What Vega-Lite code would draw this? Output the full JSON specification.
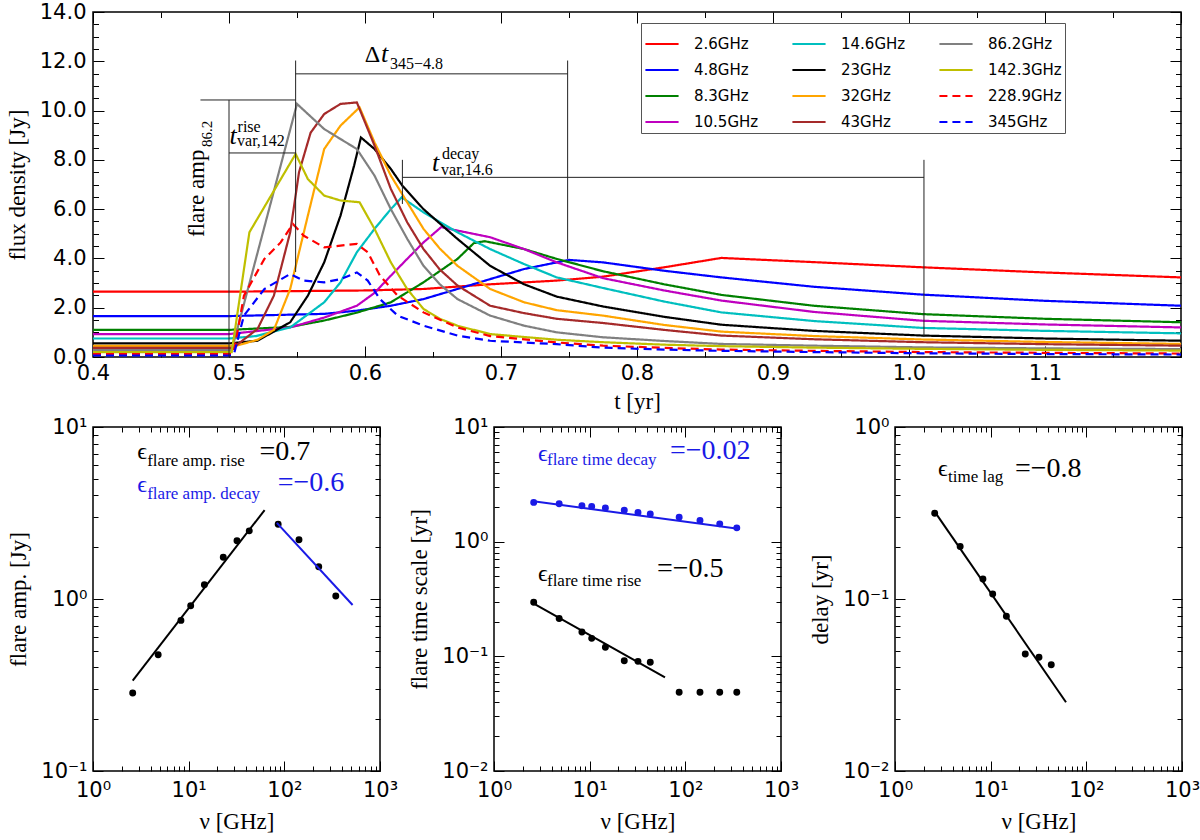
{
  "$schema": "https://vega.github.io/schema/vega-lite/v6.json",
  "background": "white",
  "padding": {"left": 5, "top": 0, "right": 10, "bottom": 4},
  "config": {
    "view": {"stroke": "#000", "strokeWidth": 1.5},
    "axis": {
      "domain": false, "grid": false,
      "labelFont": "DejaVu Sans", "labelFontSize": 21, "labelColor": "#000",
      "titleFont": "Liberation Serif", "titleFontSize": 23, "titleFontWeight": "normal", "titleColor": "#000",
      "tickColor": "#000", "tickWidth": 1,
      "labelOverlap": false, "labelFlush": false, "labelBound": false
    },
    "text": {"font": "Liberation Serif", "color": "#000"}
  },
  "datasets": {
    "curves": [
      {"band": "2.6GHz", "t": 0.4, "flux": 2.65}, {"band": "2.6GHz", "t": 0.5, "flux": 2.65}, {"band": "2.6GHz", "t": 0.6, "flux": 2.7},
      {"band": "2.6GHz", "t": 0.643, "flux": 2.76}, {"band": "2.6GHz", "t": 0.692, "flux": 2.95}, {"band": "2.6GHz", "t": 0.741, "flux": 3.1},
      {"band": "2.6GHz", "t": 0.775, "flux": 3.26}, {"band": "2.6GHz", "t": 0.82, "flux": 3.64}, {"band": "2.6GHz", "t": 0.862, "flux": 4.02},
      {"band": "2.6GHz", "t": 0.93, "flux": 3.85}, {"band": "2.6GHz", "t": 1.01, "flux": 3.64}, {"band": "2.6GHz", "t": 1.1, "flux": 3.43},
      {"band": "2.6GHz", "t": 1.2, "flux": 3.23},

      {"band": "4.8GHz", "t": 0.4, "flux": 1.66}, {"band": "4.8GHz", "t": 0.5, "flux": 1.66}, {"band": "4.8GHz", "t": 0.57, "flux": 1.75},
      {"band": "4.8GHz", "t": 0.594, "flux": 1.88}, {"band": "4.8GHz", "t": 0.619, "flux": 2.08}, {"band": "4.8GHz", "t": 0.643, "flux": 2.35},
      {"band": "4.8GHz", "t": 0.668, "flux": 2.76}, {"band": "4.8GHz", "t": 0.692, "flux": 3.16}, {"band": "4.8GHz", "t": 0.717, "flux": 3.57},
      {"band": "4.8GHz", "t": 0.75, "flux": 3.94}, {"band": "4.8GHz", "t": 0.775, "flux": 3.84}, {"band": "4.8GHz", "t": 0.82, "flux": 3.5},
      {"band": "4.8GHz", "t": 0.862, "flux": 3.23}, {"band": "4.8GHz", "t": 0.93, "flux": 2.85}, {"band": "4.8GHz", "t": 1.01, "flux": 2.53},
      {"band": "4.8GHz", "t": 1.1, "flux": 2.28}, {"band": "4.8GHz", "t": 1.2, "flux": 2.08},

      {"band": "8.3GHz", "t": 0.4, "flux": 1.1}, {"band": "8.3GHz", "t": 0.5, "flux": 1.1}, {"band": "8.3GHz", "t": 0.545, "flux": 1.22},
      {"band": "8.3GHz", "t": 0.57, "flux": 1.48}, {"band": "8.3GHz", "t": 0.594, "flux": 1.8}, {"band": "8.3GHz", "t": 0.619, "flux": 2.22},
      {"band": "8.3GHz", "t": 0.643, "flux": 3.03}, {"band": "8.3GHz", "t": 0.668, "flux": 3.98}, {"band": "8.3GHz", "t": 0.68, "flux": 4.62},
      {"band": "8.3GHz", "t": 0.688, "flux": 4.7}, {"band": "8.3GHz", "t": 0.717, "flux": 4.38}, {"band": "8.3GHz", "t": 0.741, "flux": 3.98},
      {"band": "8.3GHz", "t": 0.775, "flux": 3.48}, {"band": "8.3GHz", "t": 0.82, "flux": 2.95}, {"band": "8.3GHz", "t": 0.862, "flux": 2.52},
      {"band": "8.3GHz", "t": 0.93, "flux": 2.08}, {"band": "8.3GHz", "t": 1.01, "flux": 1.74}, {"band": "8.3GHz", "t": 1.1, "flux": 1.55},
      {"band": "8.3GHz", "t": 1.2, "flux": 1.41},

      {"band": "10.5GHz", "t": 0.4, "flux": 0.93}, {"band": "10.5GHz", "t": 0.5, "flux": 0.93}, {"band": "10.5GHz", "t": 0.545, "flux": 1.2},
      {"band": "10.5GHz", "t": 0.57, "flux": 1.6}, {"band": "10.5GHz", "t": 0.594, "flux": 2.08}, {"band": "10.5GHz", "t": 0.607, "flux": 2.6},
      {"band": "10.5GHz", "t": 0.619, "flux": 3.3}, {"band": "10.5GHz", "t": 0.631, "flux": 3.98}, {"band": "10.5GHz", "t": 0.643, "flux": 4.65},
      {"band": "10.5GHz", "t": 0.656, "flux": 5.27}, {"band": "10.5GHz", "t": 0.668, "flux": 5.13}, {"band": "10.5GHz", "t": 0.692, "flux": 4.86},
      {"band": "10.5GHz", "t": 0.717, "flux": 4.38}, {"band": "10.5GHz", "t": 0.741, "flux": 3.84}, {"band": "10.5GHz", "t": 0.775, "flux": 3.2},
      {"band": "10.5GHz", "t": 0.82, "flux": 2.7}, {"band": "10.5GHz", "t": 0.862, "flux": 2.29}, {"band": "10.5GHz", "t": 0.93, "flux": 1.83},
      {"band": "10.5GHz", "t": 1.01, "flux": 1.47}, {"band": "10.5GHz", "t": 1.1, "flux": 1.32}, {"band": "10.5GHz", "t": 1.2, "flux": 1.2},

      {"band": "14.6GHz", "t": 0.4, "flux": 0.75}, {"band": "14.6GHz", "t": 0.5, "flux": 0.75}, {"band": "14.6GHz", "t": 0.52, "flux": 0.85},
      {"band": "14.6GHz", "t": 0.545, "flux": 1.2}, {"band": "14.6GHz", "t": 0.57, "flux": 2.22}, {"band": "14.6GHz", "t": 0.582, "flux": 3.03},
      {"band": "14.6GHz", "t": 0.594, "flux": 4.25}, {"band": "14.6GHz", "t": 0.607, "flux": 5.2}, {"band": "14.6GHz", "t": 0.619, "flux": 6.0},
      {"band": "14.6GHz", "t": 0.627, "flux": 6.48}, {"band": "14.6GHz", "t": 0.643, "flux": 5.87}, {"band": "14.6GHz", "t": 0.668, "flux": 5.06},
      {"band": "14.6GHz", "t": 0.692, "flux": 4.38}, {"band": "14.6GHz", "t": 0.717, "flux": 3.77}, {"band": "14.6GHz", "t": 0.741, "flux": 3.23},
      {"band": "14.6GHz", "t": 0.775, "flux": 2.8}, {"band": "14.6GHz", "t": 0.82, "flux": 2.25}, {"band": "14.6GHz", "t": 0.862, "flux": 1.81},
      {"band": "14.6GHz", "t": 0.93, "flux": 1.46}, {"band": "14.6GHz", "t": 1.01, "flux": 1.18}, {"band": "14.6GHz", "t": 1.1, "flux": 1.06},
      {"band": "14.6GHz", "t": 1.2, "flux": 0.96},

      {"band": "23GHz", "t": 0.4, "flux": 0.55}, {"band": "23GHz", "t": 0.5, "flux": 0.55}, {"band": "23GHz", "t": 0.521, "flux": 0.66},
      {"band": "23GHz", "t": 0.545, "flux": 1.41}, {"band": "23GHz", "t": 0.558, "flux": 2.49}, {"band": "23GHz", "t": 0.57, "flux": 3.84},
      {"band": "23GHz", "t": 0.582, "flux": 5.74}, {"band": "23GHz", "t": 0.592, "flux": 7.77}, {"band": "23GHz", "t": 0.597, "flux": 8.91},
      {"band": "23GHz", "t": 0.607, "flux": 8.44}, {"band": "23GHz", "t": 0.619, "flux": 7.63}, {"band": "23GHz", "t": 0.6275, "flux": 6.95},
      {"band": "23GHz", "t": 0.643, "flux": 6.0}, {"band": "23GHz", "t": 0.668, "flux": 4.79}, {"band": "23GHz", "t": 0.692, "flux": 3.7},
      {"band": "23GHz", "t": 0.717, "flux": 2.95}, {"band": "23GHz", "t": 0.741, "flux": 2.45}, {"band": "23GHz", "t": 0.775, "flux": 2.05},
      {"band": "23GHz", "t": 0.82, "flux": 1.63}, {"band": "23GHz", "t": 0.862, "flux": 1.31}, {"band": "23GHz", "t": 0.93, "flux": 1.06},
      {"band": "23GHz", "t": 1.01, "flux": 0.87}, {"band": "23GHz", "t": 1.1, "flux": 0.75}, {"band": "23GHz", "t": 1.2, "flux": 0.66},

      {"band": "32GHz", "t": 0.4, "flux": 0.45}, {"band": "32GHz", "t": 0.505, "flux": 0.45}, {"band": "32GHz", "t": 0.521, "flux": 0.7},
      {"band": "32GHz", "t": 0.533, "flux": 1.1}, {"band": "32GHz", "t": 0.545, "flux": 2.76}, {"band": "32GHz", "t": 0.558, "flux": 5.74},
      {"band": "32GHz", "t": 0.57, "flux": 8.44}, {"band": "32GHz", "t": 0.582, "flux": 9.39}, {"band": "32GHz", "t": 0.596, "flux": 10.13},
      {"band": "32GHz", "t": 0.607, "flux": 8.71}, {"band": "32GHz", "t": 0.619, "flux": 7.36}, {"band": "32GHz", "t": 0.631, "flux": 6.28},
      {"band": "32GHz", "t": 0.643, "flux": 5.2}, {"band": "32GHz", "t": 0.655, "flux": 4.4}, {"band": "32GHz", "t": 0.668, "flux": 3.7},
      {"band": "32GHz", "t": 0.692, "flux": 2.76}, {"band": "32GHz", "t": 0.717, "flux": 2.22}, {"band": "32GHz", "t": 0.741, "flux": 1.9},
      {"band": "32GHz", "t": 0.775, "flux": 1.68}, {"band": "32GHz", "t": 0.82, "flux": 1.3}, {"band": "32GHz", "t": 0.862, "flux": 1.03},
      {"band": "32GHz", "t": 0.93, "flux": 0.85}, {"band": "32GHz", "t": 1.01, "flux": 0.71}, {"band": "32GHz", "t": 1.1, "flux": 0.61},
      {"band": "32GHz", "t": 1.2, "flux": 0.53},

      {"band": "43GHz", "t": 0.4, "flux": 0.37}, {"band": "43GHz", "t": 0.503, "flux": 0.37}, {"band": "43GHz", "t": 0.521, "flux": 1.14},
      {"band": "43GHz", "t": 0.533, "flux": 2.49}, {"band": "43GHz", "t": 0.545, "flux": 5.06}, {"band": "43GHz", "t": 0.5515, "flux": 7.5},
      {"band": "43GHz", "t": 0.56, "flux": 9.1}, {"band": "43GHz", "t": 0.57, "flux": 9.86}, {"band": "43GHz", "t": 0.582, "flux": 10.27},
      {"band": "43GHz", "t": 0.594, "flux": 10.33}, {"band": "43GHz", "t": 0.607, "flux": 8.58}, {"band": "43GHz", "t": 0.619, "flux": 6.82},
      {"band": "43GHz", "t": 0.631, "flux": 5.47}, {"band": "43GHz", "t": 0.643, "flux": 4.38}, {"band": "43GHz", "t": 0.655, "flux": 3.55},
      {"band": "43GHz", "t": 0.668, "flux": 2.9}, {"band": "43GHz", "t": 0.692, "flux": 2.08}, {"band": "43GHz", "t": 0.717, "flux": 1.78},
      {"band": "43GHz", "t": 0.741, "flux": 1.55}, {"band": "43GHz", "t": 0.775, "flux": 1.38}, {"band": "43GHz", "t": 0.82, "flux": 1.1},
      {"band": "43GHz", "t": 0.862, "flux": 0.87}, {"band": "43GHz", "t": 0.93, "flux": 0.72}, {"band": "43GHz", "t": 1.01, "flux": 0.6},
      {"band": "43GHz", "t": 1.1, "flux": 0.52}, {"band": "43GHz", "t": 1.2, "flux": 0.46},

      {"band": "86.2GHz", "t": 0.4, "flux": 0.28}, {"band": "86.2GHz", "t": 0.502, "flux": 0.28}, {"band": "86.2GHz", "t": 0.55, "flux": 10.27},
      {"band": "86.2GHz", "t": 0.57, "flux": 9.25}, {"band": "86.2GHz", "t": 0.594, "flux": 8.44}, {"band": "86.2GHz", "t": 0.607, "flux": 7.36},
      {"band": "86.2GHz", "t": 0.619, "flux": 6.0}, {"band": "86.2GHz", "t": 0.631, "flux": 4.8}, {"band": "86.2GHz", "t": 0.643, "flux": 3.7},
      {"band": "86.2GHz", "t": 0.655, "flux": 2.95}, {"band": "86.2GHz", "t": 0.668, "flux": 2.35}, {"band": "86.2GHz", "t": 0.692, "flux": 1.68},
      {"band": "86.2GHz", "t": 0.717, "flux": 1.27}, {"band": "86.2GHz", "t": 0.741, "flux": 1.0}, {"band": "86.2GHz", "t": 0.775, "flux": 0.8},
      {"band": "86.2GHz", "t": 0.82, "flux": 0.65}, {"band": "86.2GHz", "t": 0.862, "flux": 0.53}, {"band": "86.2GHz", "t": 0.93, "flux": 0.46},
      {"band": "86.2GHz", "t": 1.01, "flux": 0.39}, {"band": "86.2GHz", "t": 1.1, "flux": 0.35}, {"band": "86.2GHz", "t": 1.2, "flux": 0.32},

      {"band": "142.3GHz", "t": 0.4, "flux": 0.2}, {"band": "142.3GHz", "t": 0.502, "flux": 0.2}, {"band": "142.3GHz", "t": 0.515, "flux": 5.06},
      {"band": "142.3GHz", "t": 0.549, "flux": 8.24}, {"band": "142.3GHz", "t": 0.558, "flux": 7.22}, {"band": "142.3GHz", "t": 0.57, "flux": 6.55},
      {"band": "142.3GHz", "t": 0.582, "flux": 6.35}, {"band": "142.3GHz", "t": 0.596, "flux": 6.28}, {"band": "142.3GHz", "t": 0.607, "flux": 5.2},
      {"band": "142.3GHz", "t": 0.619, "flux": 3.84}, {"band": "142.3GHz", "t": 0.631, "flux": 2.76}, {"band": "142.3GHz", "t": 0.643, "flux": 1.95},
      {"band": "142.3GHz", "t": 0.655, "flux": 1.55}, {"band": "142.3GHz", "t": 0.668, "flux": 1.27}, {"band": "142.3GHz", "t": 0.692, "flux": 0.93},
      {"band": "142.3GHz", "t": 0.741, "flux": 0.7}, {"band": "142.3GHz", "t": 0.775, "flux": 0.6}, {"band": "142.3GHz", "t": 0.82, "flux": 0.5},
      {"band": "142.3GHz", "t": 0.862, "flux": 0.44}, {"band": "142.3GHz", "t": 0.93, "flux": 0.38}, {"band": "142.3GHz", "t": 1.01, "flux": 0.33},
      {"band": "142.3GHz", "t": 1.1, "flux": 0.29}, {"band": "142.3GHz", "t": 1.2, "flux": 0.26},

      {"band": "228.9GHz", "t": 0.4, "flux": 0.12}, {"band": "228.9GHz", "t": 0.502, "flux": 0.12}, {"band": "228.9GHz", "t": 0.504, "flux": 0.32},
      {"band": "228.9GHz", "t": 0.511, "flux": 2.49}, {"band": "228.9GHz", "t": 0.526, "flux": 3.98}, {"band": "228.9GHz", "t": 0.538, "flux": 4.65},
      {"band": "228.9GHz", "t": 0.547, "flux": 5.4}, {"band": "228.9GHz", "t": 0.555, "flux": 4.92}, {"band": "228.9GHz", "t": 0.57, "flux": 4.45},
      {"band": "228.9GHz", "t": 0.582, "flux": 4.52}, {"band": "228.9GHz", "t": 0.594, "flux": 4.59}, {"band": "228.9GHz", "t": 0.602, "flux": 4.25},
      {"band": "228.9GHz", "t": 0.611, "flux": 3.3}, {"band": "228.9GHz", "t": 0.624, "flux": 2.49}, {"band": "228.9GHz", "t": 0.643, "flux": 1.81},
      {"band": "228.9GHz", "t": 0.668, "flux": 1.2}, {"band": "228.9GHz", "t": 0.692, "flux": 0.85}, {"band": "228.9GHz", "t": 0.741, "flux": 0.59},
      {"band": "228.9GHz", "t": 0.775, "flux": 0.46}, {"band": "228.9GHz", "t": 0.82, "flux": 0.37}, {"band": "228.9GHz", "t": 0.862, "flux": 0.3},
      {"band": "228.9GHz", "t": 0.93, "flux": 0.25}, {"band": "228.9GHz", "t": 1.01, "flux": 0.2}, {"band": "228.9GHz", "t": 1.1, "flux": 0.17},
      {"band": "228.9GHz", "t": 1.2, "flux": 0.14},

      {"band": "345GHz", "t": 0.4, "flux": 0.06}, {"band": "345GHz", "t": 0.502, "flux": 0.06}, {"band": "345GHz", "t": 0.504, "flux": 0.19},
      {"band": "345GHz", "t": 0.511, "flux": 1.68}, {"band": "345GHz", "t": 0.526, "flux": 2.76}, {"band": "345GHz", "t": 0.545, "flux": 3.37},
      {"band": "345GHz", "t": 0.555, "flux": 3.1}, {"band": "345GHz", "t": 0.57, "flux": 3.03}, {"band": "345GHz", "t": 0.582, "flux": 3.16},
      {"band": "345GHz", "t": 0.594, "flux": 3.43}, {"band": "345GHz", "t": 0.602, "flux": 3.1}, {"band": "345GHz", "t": 0.611, "flux": 2.35},
      {"band": "345GHz", "t": 0.624, "flux": 1.68}, {"band": "345GHz", "t": 0.643, "flux": 1.27}, {"band": "345GHz", "t": 0.668, "flux": 0.87},
      {"band": "345GHz", "t": 0.692, "flux": 0.66}, {"band": "345GHz", "t": 0.741, "flux": 0.52}, {"band": "345GHz", "t": 0.775, "flux": 0.38},
      {"band": "345GHz", "t": 0.82, "flux": 0.3}, {"band": "345GHz", "t": 0.862, "flux": 0.25}, {"band": "345GHz", "t": 0.93, "flux": 0.2},
      {"band": "345GHz", "t": 1.01, "flux": 0.15}, {"band": "345GHz", "t": 1.1, "flux": 0.12}, {"band": "345GHz", "t": 1.2, "flux": 0.1}
    ],
    "guides": [
      {"t": 0.479, "t2": 0.549, "f": 10.43, "f2": 10.43},
      {"t": 0.5, "t2": 0.5, "f": 0, "f2": 10.43},
      {"t": 0.549, "t2": 0.549, "f": 3.45, "f2": 12.03},
      {"t": 0.5, "t2": 0.549, "f": 8.28, "f2": 8.28},
      {"t": 0.549, "t2": 0.749, "f": 11.49, "f2": 11.49},
      {"t": 0.749, "t2": 0.749, "f": 3.98, "f2": 12.03},
      {"t": 0.6275, "t2": 0.6275, "f": 6.21, "f2": 8.0},
      {"t": 0.6275, "t2": 1.011, "f": 7.29, "f2": 7.29},
      {"t": 1.011, "t2": 1.011, "f": 0.81, "f2": 8.0}
    ],
    "notes": [
      {"t": 0.5998, "f": 11.96, "txt": "Δ", "kind": "big"},
      {"t": 0.6118, "f": 11.96, "txt": "t", "kind": "it"},
      {"t": 0.6184, "f": 11.69, "txt": "345−4.8", "kind": "sub"},
      {"t": 0.4816, "f": 4.87, "txt": "flare amp", "kind": "rot"},
      {"t": 0.4875, "f": 8.52, "txt": "86.2", "kind": "rotsub"},
      {"t": 0.5004, "f": 8.64, "txt": "t", "kind": "it"},
      {"t": 0.5063, "f": 9.12, "txt": "rise", "kind": "sub"},
      {"t": 0.5059, "f": 8.55, "txt": "var,142", "kind": "sub"},
      {"t": 0.6493, "f": 7.56, "txt": "t", "kind": "it"},
      {"t": 0.6566, "f": 8.04, "txt": "decay", "kind": "sub"},
      {"t": 0.6559, "f": 7.39, "txt": "var,14.6", "kind": "sub"}
    ],
    "amp": [
      {"nu": 2.6, "v": 0.284}, {"nu": 4.8, "v": 0.474}, {"nu": 8.3, "v": 0.751}, {"nu": 10.5, "v": 0.914},
      {"nu": 14.6, "v": 1.21}, {"nu": 23, "v": 1.75}, {"nu": 32, "v": 2.18}, {"nu": 43, "v": 2.49},
      {"nu": 86.2, "v": 2.72}, {"nu": 142.3, "v": 2.21}, {"nu": 228.9, "v": 1.54}, {"nu": 345, "v": 1.04}
    ],
    "timescale": [
      {"nu": 2.6, "v": 2.2, "part": "decay"}, {"nu": 4.8, "v": 2.14, "part": "decay"}, {"nu": 8.3, "v": 2.06, "part": "decay"},
      {"nu": 10.5, "v": 2.03, "part": "decay"}, {"nu": 14.6, "v": 1.97, "part": "decay"}, {"nu": 23, "v": 1.88, "part": "decay"},
      {"nu": 32, "v": 1.8, "part": "decay"}, {"nu": 43, "v": 1.74, "part": "decay"}, {"nu": 86.2, "v": 1.63, "part": "decay"},
      {"nu": 142.3, "v": 1.53, "part": "decay"}, {"nu": 228.9, "v": 1.43, "part": "decay"}, {"nu": 345, "v": 1.32, "part": "decay"},
      {"nu": 2.6, "v": 0.296, "part": "rise"}, {"nu": 4.8, "v": 0.214, "part": "rise"}, {"nu": 8.3, "v": 0.163, "part": "rise"},
      {"nu": 10.5, "v": 0.1435, "part": "rise"}, {"nu": 14.6, "v": 0.12, "part": "rise"}, {"nu": 23, "v": 0.0916, "part": "rise"},
      {"nu": 32, "v": 0.0904, "part": "rise"}, {"nu": 43, "v": 0.0887, "part": "rise"}, {"nu": 86.2, "v": 0.0486, "part": "rise"},
      {"nu": 142.3, "v": 0.0486, "part": "rise"}, {"nu": 228.9, "v": 0.0486, "part": "rise"}, {"nu": 345, "v": 0.0486, "part": "rise"}
    ],
    "delay": [
      {"nu": 2.6, "v": 0.315}, {"nu": 4.8, "v": 0.202}, {"nu": 8.3, "v": 0.1306}, {"nu": 10.5, "v": 0.107},
      {"nu": 14.6, "v": 0.0793}, {"nu": 23, "v": 0.0479}, {"nu": 32, "v": 0.0458}, {"nu": 43, "v": 0.0415}
    ],
    "fits": [
      {"panel": "amp", "part": "rise", "nu": 2.6, "v": 0.335}, {"panel": "amp", "part": "rise", "nu": 62.2, "v": 3.29},
      {"panel": "amp", "part": "decay", "nu": 83.5, "v": 2.77}, {"panel": "amp", "part": "decay", "nu": 517, "v": 0.923},
      {"panel": "time", "part": "decay", "nu": 2.58, "v": 2.25}, {"panel": "time", "part": "decay", "nu": 372, "v": 1.29},
      {"panel": "time", "part": "rise", "nu": 2.58, "v": 0.29}, {"panel": "time", "part": "rise", "nu": 61.3, "v": 0.0656},
      {"panel": "delay", "part": "lag", "nu": 2.62, "v": 0.32}, {"panel": "delay", "part": "lag", "nu": 61.3, "v": 0.0251}
    ],
    "eq": [
      {"panel": "amp", "part": "rise", "nu": 2.894, "v": 6.52, "txt": "ϵ", "kind": "eps"},
      {"panel": "amp", "part": "rise", "nu": 3.686, "v": 5.93, "txt": "flare amp. rise", "kind": "sub"},
      {"panel": "amp", "part": "rise", "nu": 55.1, "v": 6.43, "txt": "=0.7", "kind": "val"},
      {"panel": "amp", "part": "decay", "nu": 2.894, "v": 4.19, "txt": "ϵ", "kind": "eps"},
      {"panel": "amp", "part": "decay", "nu": 3.686, "v": 3.81, "txt": "flare amp. decay", "kind": "sub"},
      {"panel": "amp", "part": "decay", "nu": 85.2, "v": 4.25, "txt": "=−0.6", "kind": "val"},
      {"panel": "time", "part": "decay", "nu": 2.884, "v": 5.08, "txt": "ϵ", "kind": "eps"},
      {"panel": "time", "part": "decay", "nu": 3.58, "v": 4.66, "txt": "flare time decay", "kind": "sub"},
      {"panel": "time", "part": "decay", "nu": 69.1, "v": 5.26, "txt": "=−0.02", "kind": "val"},
      {"panel": "time", "part": "rise", "nu": 2.884, "v": 0.4566, "txt": "ϵ", "kind": "eps"},
      {"panel": "time", "part": "rise", "nu": 3.58, "v": 0.413, "txt": "flare time rise", "kind": "sub"},
      {"panel": "time", "part": "rise", "nu": 50.6, "v": 0.492, "txt": "=−0.5", "kind": "val"},
      {"panel": "delay", "part": "lag", "nu": 2.815, "v": 0.517, "txt": "ϵ", "kind": "eps"},
      {"panel": "delay", "part": "lag", "nu": 3.58, "v": 0.477, "txt": "time lag", "kind": "sub"},
      {"panel": "delay", "part": "lag", "nu": 17.96, "v": 0.512, "txt": "=−0.8", "kind": "val"}
    ]
  },
  "spacing": 70,
  "bounds": "flush",
  "resolve": {"scale": {"color": "independent", "strokeDash": "independent"}},
  "vconcat": [
    {
      "width": 1088,
      "height": 345,
      "resolve": {"axis": {"x": "independent", "y": "independent"}},
      "layer": [
        {
          "data": {"name": "curves"},
          "mark": {"type": "line", "strokeWidth": 2.2, "clip": true},
          "encoding": {
            "x": {
              "field": "t", "type": "quantitative",
              "scale": {"domain": [0.4, 1.2], "nice": false, "zero": false},
              "axis": {
                "orient": "bottom", "title": "t [yr]",
                "values": [0.4, 0.45, 0.5, 0.55, 0.6, 0.65, 0.7, 0.75, 0.8, 0.85, 0.9, 0.95, 1.0, 1.05, 1.1, 1.15, 1.2],
                "labelExpr": "round(datum.value*20) % 2 == 0 && datum.value < 1.15 ? format(datum.value, '.1f') : ''",
                "tickSize": {"condition": {"test": "round(datum.value*20) % 2 == 0", "value": -11}, "value": -5.5},
                "labelPadding": 16, "titlePadding": 2
              }
            },
            "y": {
              "field": "flux", "type": "quantitative",
              "scale": {"domain": [0, 14], "nice": false},
              "axis": {
                "orient": "left", "title": "flux density [Jy]",
                "values": [0, 0.5, 1, 1.5, 2, 2.5, 3, 3.5, 4, 4.5, 5, 5.5, 6, 6.5, 7, 7.5, 8, 8.5, 9, 9.5, 10, 10.5, 11, 11.5, 12, 12.5, 13, 13.5, 14],
                "labelExpr": "datum.value % 2 == 0 ? format(datum.value, '.1f') : ''",
                "tickSize": {"condition": {"test": "datum.value % 2 == 0", "value": -11}, "value": -5.5},
                "labelPadding": 18, "titlePadding": 10
              }
            },
            "color": {
              "field": "band", "type": "nominal",
              "scale": {
                "domain": ["2.6GHz", "4.8GHz", "8.3GHz", "10.5GHz", "14.6GHz", "23GHz", "32GHz", "43GHz", "86.2GHz", "142.3GHz", "228.9GHz", "345GHz"],
                "range": ["#ff0000", "#0000ff", "#008000", "#bf00bf", "#00bfbf", "#000000", "#ffa500", "#a52a2a", "#808080", "#bfbf00", "#ff0000", "#0000ff"]
              },
              "legend": {
                "orient": "none", "legendX": 548, "legendY": 11, "title": null, "columns": 3,
                "symbolType": "stroke", "symbolStrokeWidth": 2.2, "symbolSize": 1100,
                "labelFont": "DejaVu Sans", "labelFontSize": 15, "labelColor": "#000", "labelOffset": 14,
                "columnPadding": 20, "rowPadding": 0, "padding": 3,
                "strokeColor": "#555", "fillColor": "#fff", "gridAlign": "all", "labelLimit": 200
              }
            },
            "strokeDash": {
              "field": "band", "type": "nominal",
              "scale": {
                "domain": ["2.6GHz", "4.8GHz", "8.3GHz", "10.5GHz", "14.6GHz", "23GHz", "32GHz", "43GHz", "86.2GHz", "142.3GHz", "228.9GHz", "345GHz"],
                "range": [[1, 0], [1, 0], [1, 0], [1, 0], [1, 0], [1, 0], [1, 0], [1, 0], [1, 0], [1, 0], [8, 5], [8, 5]]
              },
              "legend": {
                "orient": "none", "legendX": 548, "legendY": 11, "title": null, "columns": 3,
                "symbolType": "stroke", "symbolStrokeWidth": 2.2, "symbolSize": 1100,
                "labelFont": "DejaVu Sans", "labelFontSize": 15, "labelColor": "#000", "labelOffset": 14,
                "columnPadding": 20, "rowPadding": 0, "padding": 3,
                "strokeColor": "#555", "fillColor": "#fff", "gridAlign": "all", "labelLimit": 200
              }
            }
          }
        },
        {
          "data": {"name": "guides"},
          "mark": {"type": "rule", "color": "#222", "strokeWidth": 1},
          "encoding": {
            "x": {
              "field": "t", "type": "quantitative",
              "axis": {
                "orient": "top", "title": null, "labels": false,
                "values": [0.4, 0.45, 0.5, 0.55, 0.6, 0.65, 0.7, 0.75, 0.8, 0.85, 0.9, 0.95, 1.0, 1.05, 1.1, 1.15, 1.2],
                "tickSize": {"condition": {"test": "round(datum.value*20) % 2 == 0", "value": -11}, "value": -5.5}
              }
            },
            "x2": {"field": "t2"},
            "y": {
              "field": "f", "type": "quantitative",
              "axis": {
                "orient": "right", "title": null, "labels": false,
                "values": [0, 0.5, 1, 1.5, 2, 2.5, 3, 3.5, 4, 4.5, 5, 5.5, 6, 6.5, 7, 7.5, 8, 8.5, 9, 9.5, 10, 10.5, 11, 11.5, 12, 12.5, 13, 13.5, 14],
                "tickSize": {"condition": {"test": "datum.value % 2 == 0", "value": -11}, "value": -5.5}
              }
            },
            "y2": {"field": "f2"}
          }
        },
        {
          "data": {"name": "notes"},
          "transform": [{"filter": "datum.kind == 'big'"}],
          "mark": {"type": "text", "align": "left", "baseline": "alphabetic", "fontSize": 24},
          "encoding": {
            "x": {"field": "t", "type": "quantitative", "axis": null},
            "y": {"field": "f", "type": "quantitative", "axis": null},
            "text": {"field": "txt"}
          }
        },
        {
          "data": {"name": "notes"},
          "transform": [{"filter": "datum.kind == 'sub'"}],
          "mark": {"type": "text", "align": "left", "baseline": "alphabetic", "fontSize": 16},
          "encoding": {
            "x": {"field": "t", "type": "quantitative", "axis": null},
            "y": {"field": "f", "type": "quantitative", "axis": null},
            "text": {"field": "txt"}
          }
        },
        {
          "data": {"name": "notes"},
          "transform": [{"filter": "datum.kind == 'it'"}],
          "mark": {"type": "text", "align": "left", "baseline": "alphabetic", "fontStyle": "italic", "fontSize": 26},
          "encoding": {
            "x": {"field": "t", "type": "quantitative", "axis": null},
            "y": {"field": "f", "type": "quantitative", "axis": null},
            "text": {"field": "txt"}
          }
        },
        {
          "data": {"name": "notes"},
          "transform": [{"filter": "datum.kind == 'rot'"}],
          "mark": {"type": "text", "align": "left", "baseline": "alphabetic", "angle": 270, "fontSize": 23},
          "encoding": {
            "x": {"field": "t", "type": "quantitative", "axis": null},
            "y": {"field": "f", "type": "quantitative", "axis": null},
            "text": {"field": "txt"}
          }
        },
        {
          "data": {"name": "notes"},
          "transform": [{"filter": "datum.kind == 'rotsub'"}],
          "mark": {"type": "text", "align": "left", "baseline": "alphabetic", "angle": 270, "fontSize": 15},
          "encoding": {
            "x": {"field": "t", "type": "quantitative", "axis": null},
            "y": {"field": "f", "type": "quantitative", "axis": null},
            "text": {"field": "txt"}
          }
        }
      ]
    },
    {
      "spacing": 114,
      "bounds": "flush",
      "hconcat": [
        {
          "width": 287,
          "height": 344,
          "resolve": {"axis": {"x": "independent", "y": "independent"}},
          "layer": [
            {
              "data": {"name": "amp"},
              "mark": {"type": "point", "filled": true, "color": "#000", "opacity": 1, "size": 48},
              "encoding": {
                "x": {
                  "field": "nu", "type": "quantitative",
                  "scale": {"type": "log", "domain": [1, 1000], "nice": false},
                  "axis": {
                    "orient": "bottom", "title": "ν [GHz]",
                    "values": [1, 2, 3, 4, 5, 6, 7, 8, 9, 10, 20, 30, 40, 50, 60, 70, 80, 90, 100, 200, 300, 400, 500, 600, 700, 800, 900, 1000],
                    "labelExpr": "datum.value == 1 ? '10⁰' : datum.value == 10 ? '10¹' : datum.value == 100 ? '10²' : datum.value == 1000 ? '10³' : ''",
                    "tickSize": {"condition": {"test": "datum.value == 1 || datum.value == 10 || datum.value == 100 || datum.value == 1000", "value": -10}, "value": -5},
                    "labelPadding": 18, "titlePadding": 5
                  }
                },
                "y": {
                  "field": "v", "type": "quantitative",
                  "scale": {"type": "log", "domain": [0.1, 10], "nice": false},
                  "axis": {
                    "orient": "left", "title": "flare amp. [Jy]",
                    "values": [0.1, 0.2, 0.3, 0.4, 0.5, 0.6, 0.7, 0.8, 0.9, 1, 2, 3, 4, 5, 6, 7, 8, 9, 10],
                    "labelExpr": "datum.value == 1 ? '10⁰' : datum.value == 10 ? '10¹' : datum.value == 0.1 ? '10⁻¹' : ''",
                    "tickSize": {"condition": {"test": "datum.value == 1 || datum.value == 10 || datum.value == 0.1", "value": -10}, "value": -5},
                    "labelPadding": 16, "titlePadding": 10
                  }
                }
              }
            },
            {
              "data": {"name": "fits"},
              "transform": [{"filter": "datum.panel == 'amp'"}],
              "mark": {"type": "line", "strokeWidth": 2},
              "encoding": {
                "x": {
                  "field": "nu", "type": "quantitative",
                  "axis": {
                    "orient": "top", "title": null, "labels": false,
                    "values": [1, 2, 3, 4, 5, 6, 7, 8, 9, 10, 20, 30, 40, 50, 60, 70, 80, 90, 100, 200, 300, 400, 500, 600, 700, 800, 900, 1000],
                    "tickSize": {"condition": {"test": "datum.value == 1 || datum.value == 10 || datum.value == 100 || datum.value == 1000", "value": -10}, "value": -5}
                  }
                },
                "y": {
                  "field": "v", "type": "quantitative",
                  "axis": {
                    "orient": "right", "title": null, "labels": false,
                    "values": [0.1, 0.2, 0.3, 0.4, 0.5, 0.6, 0.7, 0.8, 0.9, 1, 2, 3, 4, 5, 6, 7, 8, 9, 10],
                    "tickSize": {"condition": {"test": "datum.value == 1 || datum.value == 10 || datum.value == 0.1", "value": -10}, "value": -5}
                  }
                },
                "color": {"field": "part", "type": "nominal", "scale": {"domain": ["rise", "decay", "lag"], "range": ["#000000", "#1a1ae6", "#000000"]}, "legend": null}
              }
            },
            {
              "data": {"name": "eq"},
              "transform": [{"filter": "datum.panel == 'amp' && datum.kind == 'eps'"}],
              "mark": {"type": "text", "align": "left", "baseline": "alphabetic", "fontSize": 24},
              "encoding": {
                "x": {"field": "nu", "type": "quantitative", "axis": null},
                "y": {"field": "v", "type": "quantitative", "axis": null},
                "text": {"field": "txt"},
                "color": {"field": "part", "type": "nominal", "scale": {"domain": ["rise", "decay", "lag"], "range": ["#000000", "#1a1ae6", "#000000"]}, "legend": null}
              }
            },
            {
              "data": {"name": "eq"},
              "transform": [{"filter": "datum.panel == 'amp' && datum.kind == 'sub'"}],
              "mark": {"type": "text", "align": "left", "baseline": "alphabetic", "fontSize": 17},
              "encoding": {
                "x": {"field": "nu", "type": "quantitative", "axis": null},
                "y": {"field": "v", "type": "quantitative", "axis": null},
                "text": {"field": "txt"},
                "color": {"field": "part", "type": "nominal", "scale": {"domain": ["rise", "decay", "lag"], "range": ["#000000", "#1a1ae6", "#000000"]}, "legend": null}
              }
            },
            {
              "data": {"name": "eq"},
              "transform": [{"filter": "datum.panel == 'amp' && datum.kind == 'val'"}],
              "mark": {"type": "text", "align": "left", "baseline": "alphabetic", "fontSize": 28},
              "encoding": {
                "x": {"field": "nu", "type": "quantitative", "axis": null},
                "y": {"field": "v", "type": "quantitative", "axis": null},
                "text": {"field": "txt"},
                "color": {"field": "part", "type": "nominal", "scale": {"domain": ["rise", "decay", "lag"], "range": ["#000000", "#1a1ae6", "#000000"]}, "legend": null}
              }
            }
          ]
        },
        {
          "width": 287,
          "height": 344,
          "resolve": {"axis": {"x": "independent", "y": "independent"}},
          "layer": [
            {
              "data": {"name": "timescale"},
              "mark": {"type": "point", "filled": true, "opacity": 1, "size": 48},
              "encoding": {
                "x": {
                  "field": "nu", "type": "quantitative",
                  "scale": {"type": "log", "domain": [1, 1000], "nice": false},
                  "axis": {
                    "orient": "bottom", "title": "ν [GHz]",
                    "values": [1, 2, 3, 4, 5, 6, 7, 8, 9, 10, 20, 30, 40, 50, 60, 70, 80, 90, 100, 200, 300, 400, 500, 600, 700, 800, 900, 1000],
                    "labelExpr": "datum.value == 1 ? '10⁰' : datum.value == 10 ? '10¹' : datum.value == 100 ? '10²' : datum.value == 1000 ? '10³' : ''",
                    "tickSize": {"condition": {"test": "datum.value == 1 || datum.value == 10 || datum.value == 100 || datum.value == 1000", "value": -10}, "value": -5},
                    "labelPadding": 18, "titlePadding": 5
                  }
                },
                "y": {
                  "field": "v", "type": "quantitative",
                  "scale": {"type": "log", "domain": [0.01, 10], "nice": false},
                  "axis": {
                    "orient": "left", "title": "flare time scale [yr]",
                    "values": [0.01, 0.02, 0.03, 0.04, 0.05, 0.06, 0.07, 0.08, 0.09, 0.1, 0.2, 0.3, 0.4, 0.5, 0.6, 0.7, 0.8, 0.9, 1, 2, 3, 4, 5, 6, 7, 8, 9, 10],
                    "labelExpr": "datum.value == 1 ? '10⁰' : datum.value == 10 ? '10¹' : datum.value == 0.1 ? '10⁻¹' : datum.value == 0.01 ? '10⁻²' : ''",
                    "tickSize": {"condition": {"test": "datum.value == 1 || datum.value == 10 || datum.value == 0.1 || datum.value == 0.01", "value": -10}, "value": -5},
                    "labelPadding": 16, "titlePadding": 10
                  }
                },
                "color": {"field": "part", "type": "nominal", "scale": {"domain": ["rise", "decay", "lag"], "range": ["#000000", "#1a1ae6", "#000000"]}, "legend": null}
              }
            },
            {
              "data": {"name": "fits"},
              "transform": [{"filter": "datum.panel == 'time'"}],
              "mark": {"type": "line", "strokeWidth": 2},
              "encoding": {
                "x": {
                  "field": "nu", "type": "quantitative",
                  "axis": {
                    "orient": "top", "title": null, "labels": false,
                    "values": [1, 2, 3, 4, 5, 6, 7, 8, 9, 10, 20, 30, 40, 50, 60, 70, 80, 90, 100, 200, 300, 400, 500, 600, 700, 800, 900, 1000],
                    "tickSize": {"condition": {"test": "datum.value == 1 || datum.value == 10 || datum.value == 100 || datum.value == 1000", "value": -10}, "value": -5}
                  }
                },
                "y": {
                  "field": "v", "type": "quantitative",
                  "axis": {
                    "orient": "right", "title": null, "labels": false,
                    "values": [0.01, 0.02, 0.03, 0.04, 0.05, 0.06, 0.07, 0.08, 0.09, 0.1, 0.2, 0.3, 0.4, 0.5, 0.6, 0.7, 0.8, 0.9, 1, 2, 3, 4, 5, 6, 7, 8, 9, 10],
                    "tickSize": {"condition": {"test": "datum.value == 1 || datum.value == 10 || datum.value == 0.1 || datum.value == 0.01", "value": -10}, "value": -5}
                  }
                },
                "color": {"field": "part", "type": "nominal", "scale": {"domain": ["rise", "decay", "lag"], "range": ["#000000", "#1a1ae6", "#000000"]}, "legend": null}
              }
            },
            {
              "data": {"name": "eq"},
              "transform": [{"filter": "datum.panel == 'time' && datum.kind == 'eps'"}],
              "mark": {"type": "text", "align": "left", "baseline": "alphabetic", "fontSize": 24},
              "encoding": {
                "x": {"field": "nu", "type": "quantitative", "axis": null},
                "y": {"field": "v", "type": "quantitative", "axis": null},
                "text": {"field": "txt"},
                "color": {"field": "part", "type": "nominal", "scale": {"domain": ["rise", "decay", "lag"], "range": ["#000000", "#1a1ae6", "#000000"]}, "legend": null}
              }
            },
            {
              "data": {"name": "eq"},
              "transform": [{"filter": "datum.panel == 'time' && datum.kind == 'sub'"}],
              "mark": {"type": "text", "align": "left", "baseline": "alphabetic", "fontSize": 17},
              "encoding": {
                "x": {"field": "nu", "type": "quantitative", "axis": null},
                "y": {"field": "v", "type": "quantitative", "axis": null},
                "text": {"field": "txt"},
                "color": {"field": "part", "type": "nominal", "scale": {"domain": ["rise", "decay", "lag"], "range": ["#000000", "#1a1ae6", "#000000"]}, "legend": null}
              }
            },
            {
              "data": {"name": "eq"},
              "transform": [{"filter": "datum.panel == 'time' && datum.kind == 'val'"}],
              "mark": {"type": "text", "align": "left", "baseline": "alphabetic", "fontSize": 28},
              "encoding": {
                "x": {"field": "nu", "type": "quantitative", "axis": null},
                "y": {"field": "v", "type": "quantitative", "axis": null},
                "text": {"field": "txt"},
                "color": {"field": "part", "type": "nominal", "scale": {"domain": ["rise", "decay", "lag"], "range": ["#000000", "#1a1ae6", "#000000"]}, "legend": null}
              }
            }
          ]
        },
        {
          "width": 287,
          "height": 344,
          "resolve": {"axis": {"x": "independent", "y": "independent"}},
          "layer": [
            {
              "data": {"name": "delay"},
              "mark": {"type": "point", "filled": true, "color": "#000", "opacity": 1, "size": 48},
              "encoding": {
                "x": {
                  "field": "nu", "type": "quantitative",
                  "scale": {"type": "log", "domain": [1, 1000], "nice": false},
                  "axis": {
                    "orient": "bottom", "title": "ν [GHz]",
                    "values": [1, 2, 3, 4, 5, 6, 7, 8, 9, 10, 20, 30, 40, 50, 60, 70, 80, 90, 100, 200, 300, 400, 500, 600, 700, 800, 900, 1000],
                    "labelExpr": "datum.value == 1 ? '10⁰' : datum.value == 10 ? '10¹' : datum.value == 100 ? '10²' : datum.value == 1000 ? '10³' : ''",
                    "tickSize": {"condition": {"test": "datum.value == 1 || datum.value == 10 || datum.value == 100 || datum.value == 1000", "value": -10}, "value": -5},
                    "labelPadding": 18, "titlePadding": 5
                  }
                },
                "y": {
                  "field": "v", "type": "quantitative",
                  "scale": {"type": "log", "domain": [0.01, 1], "nice": false},
                  "axis": {
                    "orient": "left", "title": "delay [yr]",
                    "values": [0.01, 0.02, 0.03, 0.04, 0.05, 0.06, 0.07, 0.08, 0.09, 0.1, 0.2, 0.3, 0.4, 0.5, 0.6, 0.7, 0.8, 0.9, 1],
                    "labelExpr": "datum.value == 1 ? '10⁰' : datum.value == 0.1 ? '10⁻¹' : datum.value == 0.01 ? '10⁻²' : ''",
                    "tickSize": {"condition": {"test": "datum.value == 1 || datum.value == 0.1 || datum.value == 0.01", "value": -10}, "value": -5},
                    "labelPadding": 16, "titlePadding": 10
                  }
                }
              }
            },
            {
              "data": {"name": "fits"},
              "transform": [{"filter": "datum.panel == 'delay'"}],
              "mark": {"type": "line", "strokeWidth": 2, "color": "#000"},
              "encoding": {
                "x": {
                  "field": "nu", "type": "quantitative",
                  "axis": {
                    "orient": "top", "title": null, "labels": false,
                    "values": [1, 2, 3, 4, 5, 6, 7, 8, 9, 10, 20, 30, 40, 50, 60, 70, 80, 90, 100, 200, 300, 400, 500, 600, 700, 800, 900, 1000],
                    "tickSize": {"condition": {"test": "datum.value == 1 || datum.value == 10 || datum.value == 100 || datum.value == 1000", "value": -10}, "value": -5}
                  }
                },
                "y": {
                  "field": "v", "type": "quantitative",
                  "axis": {
                    "orient": "right", "title": null, "labels": false,
                    "values": [0.01, 0.02, 0.03, 0.04, 0.05, 0.06, 0.07, 0.08, 0.09, 0.1, 0.2, 0.3, 0.4, 0.5, 0.6, 0.7, 0.8, 0.9, 1],
                    "tickSize": {"condition": {"test": "datum.value == 1 || datum.value == 0.1 || datum.value == 0.01", "value": -10}, "value": -5}
                  }
                }
              }
            },
            {
              "data": {"name": "eq"},
              "transform": [{"filter": "datum.panel == 'delay' && datum.kind == 'eps'"}],
              "mark": {"type": "text", "align": "left", "baseline": "alphabetic", "fontSize": 24, "color": "#000"},
              "encoding": {
                "x": {"field": "nu", "type": "quantitative", "axis": null},
                "y": {"field": "v", "type": "quantitative", "axis": null},
                "text": {"field": "txt"}
              }
            },
            {
              "data": {"name": "eq"},
              "transform": [{"filter": "datum.panel == 'delay' && datum.kind == 'sub'"}],
              "mark": {"type": "text", "align": "left", "baseline": "alphabetic", "fontSize": 17, "color": "#000"},
              "encoding": {
                "x": {"field": "nu", "type": "quantitative", "axis": null},
                "y": {"field": "v", "type": "quantitative", "axis": null},
                "text": {"field": "txt"}
              }
            },
            {
              "data": {"name": "eq"},
              "transform": [{"filter": "datum.panel == 'delay' && datum.kind == 'val'"}],
              "mark": {"type": "text", "align": "left", "baseline": "alphabetic", "fontSize": 28, "color": "#000"},
              "encoding": {
                "x": {"field": "nu", "type": "quantitative", "axis": null},
                "y": {"field": "v", "type": "quantitative", "axis": null},
                "text": {"field": "txt"}
              }
            }
          ]
        }
      ]
    }
  ]
}
